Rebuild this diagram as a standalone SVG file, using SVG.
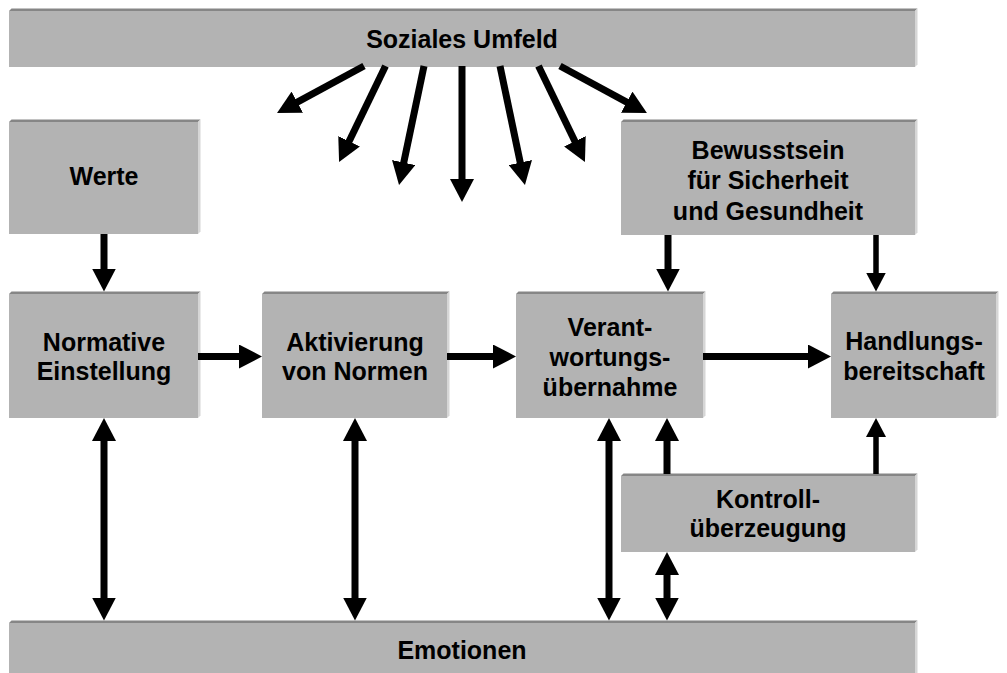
<svg xmlns="http://www.w3.org/2000/svg" width="1007" height="673" viewBox="0 0 1007 673">
  <style>
    .front { fill: #b3b3b3; }
    .top { fill: #868686; }
    .side { fill: #d6d6d6; }
    .label { font-family: "Liberation Sans", Arial, sans-serif; font-weight: bold; font-size: 25px; fill: #000; text-anchor: middle; }
    .arrow { stroke: #000; stroke-width: 7; fill: none; marker-end: url(#head); }
    .both { marker-start: url(#head); }
    .thin { stroke: #000; stroke-width: 5.5; fill: none; marker-end: url(#headSmall); }
  </style>
  <defs>
    <marker id="head" markerUnits="userSpaceOnUse" markerWidth="23" markerHeight="24" refX="11" refY="12" orient="auto-start-reverse">
      <path d="M0,0 L23,12 L0,24 Z" fill="#000"/>
    </marker>
    <marker id="headSmall" markerUnits="userSpaceOnUse" markerWidth="19" markerHeight="20" refX="9" refY="10" orient="auto-start-reverse">
      <path d="M0,0 L19,10 L0,20 Z" fill="#000"/>
    </marker>
  </defs>
  <rect width="1007" height="673" fill="#fff"/>

  <g id="soziales-umfeld">
    <rect class="front" x="9" y="11" width="906" height="56"/>
    <polygon class="top" points="9,11 11.5,8.5 917.5,8.5 915,11"/>
    <polygon class="side" points="915,11 917.5,8.5 917.5,64.5 915,67"/>
    <text class="label" x="462" y="48">Soziales Umfeld</text>
  </g>

  <g id="werte">
    <rect class="front" x="9" y="122" width="189" height="112"/>
    <polygon class="top" points="9,122 11.5,119.5 200.5,119.5 198,122"/>
    <polygon class="side" points="198,122 200.5,119.5 200.5,231.5 198,234"/>
    <text class="label" x="104" y="185">Werte</text>
  </g>

  <g id="bewusstsein">
    <rect class="front" x="621" y="122" width="294" height="113"/>
    <polygon class="top" points="621,122 623.5,119.5 917.5,119.5 915,122"/>
    <polygon class="side" points="915,122 917.5,119.5 917.5,232.5 915,235"/>
    <text class="label" x="768" y="159">Bewusstsein</text>
    <text class="label" x="768" y="189">für Sicherheit</text>
    <text class="label" x="768" y="220">und Gesundheit</text>
  </g>

  <g id="normative-einstellung">
    <rect class="front" x="9" y="294" width="189" height="124"/>
    <polygon class="top" points="9,294 11.5,291.5 200.5,291.5 198,294"/>
    <polygon class="side" points="198,294 200.5,291.5 200.5,415.5 198,418"/>
    <text class="label" x="104" y="351">Normative</text>
    <text class="label" x="104" y="380">Einstellung</text>
  </g>

  <g id="aktivierung-von-normen">
    <rect class="front" x="262" y="294" width="185" height="124"/>
    <polygon class="top" points="262,294 264.5,291.5 449.5,291.5 447,294"/>
    <polygon class="side" points="447,294 449.5,291.5 449.5,415.5 447,418"/>
    <text class="label" x="355" y="351">Aktivierung</text>
    <text class="label" x="355" y="380">von Normen</text>
  </g>

  <g id="verantwortungsuebernahme">
    <rect class="front" x="516" y="294" width="187" height="124"/>
    <polygon class="top" points="516,294 518.5,291.5 705.5,291.5 703,294"/>
    <polygon class="side" points="703,294 705.5,291.5 705.5,415.5 703,418"/>
    <text class="label" x="610" y="336">Verant-</text>
    <text class="label" x="610" y="366">wortungs-</text>
    <text class="label" x="610" y="396">übernahme</text>
  </g>

  <g id="handlungsbereitschaft">
    <rect class="front" x="831" y="294" width="165" height="124"/>
    <polygon class="top" points="831,294 833.5,291.5 998.5,291.5 996,294"/>
    <polygon class="side" points="996,294 998.5,291.5 998.5,415.5 996,418"/>
    <text class="label" x="914" y="350">Handlungs-</text>
    <text class="label" x="914" y="380">bereitschaft</text>
  </g>

  <g id="kontrollueberzeugung">
    <rect class="front" x="621" y="476" width="294" height="76"/>
    <polygon class="top" points="621,476 623.5,473.5 917.5,473.5 915,476"/>
    <polygon class="side" points="915,476 917.5,473.5 917.5,549.5 915,552"/>
    <text class="label" x="768" y="508">Kontroll-</text>
    <text class="label" x="768" y="537">überzeugung</text>
  </g>

  <g id="emotionen">
    <rect class="front" x="9" y="623" width="906" height="50"/>
    <polygon class="top" points="9,623 11.5,620.5 917.5,620.5 915,623"/>
    <polygon class="side" points="915,623 917.5,620.5 917.5,673 915,673"/>
    <text class="label" x="462" y="659">Emotionen</text>
  </g>

  <g id="connectors">
    <!-- fan of influences from the social environment -->
    <line class="arrow" x1="364" y1="66" x2="287.6" y2="107.4"/>
    <line class="arrow" x1="385.5" y1="66" x2="344.3" y2="151.2"/>
    <line class="arrow" x1="424" y1="66" x2="401.5" y2="173.3"/>
    <line class="arrow" x1="462" y1="66" x2="462" y2="190"/>
    <line class="arrow" x1="500" y1="66" x2="522.5" y2="173.3"/>
    <line class="arrow" x1="538.5" y1="66" x2="579.7" y2="151.2"/>
    <line class="arrow" x1="560" y1="66" x2="636.4" y2="107.4"/>

    <!-- main chain -->
    <line class="arrow" x1="104" y1="234" x2="104" y2="279.5"/>
    <line class="arrow" x1="198" y1="356.5" x2="250" y2="356.5"/>
    <line class="arrow" x1="447" y1="356.5" x2="504" y2="356.5"/>
    <line class="arrow" x1="703" y1="356.5" x2="819" y2="356.5"/>
    <line class="arrow" x1="668" y1="235" x2="668" y2="279.5"/>
    <line class="thin" x1="876" y1="235" x2="876" y2="281.5"/>

    <!-- control beliefs -->
    <line class="thin" x1="876" y1="474" x2="876" y2="428"/>
    <line class="arrow" x1="667" y1="474" x2="667" y2="430"/>

    <!-- links with emotions -->
    <line class="arrow both" x1="104" y1="430" x2="104" y2="608.5"/>
    <line class="arrow both" x1="355" y1="430" x2="355" y2="608.5"/>
    <line class="arrow both" x1="609" y1="430" x2="609" y2="608.5"/>
    <line class="arrow both" x1="667" y1="564" x2="667" y2="608.5"/>
  </g>
</svg>
